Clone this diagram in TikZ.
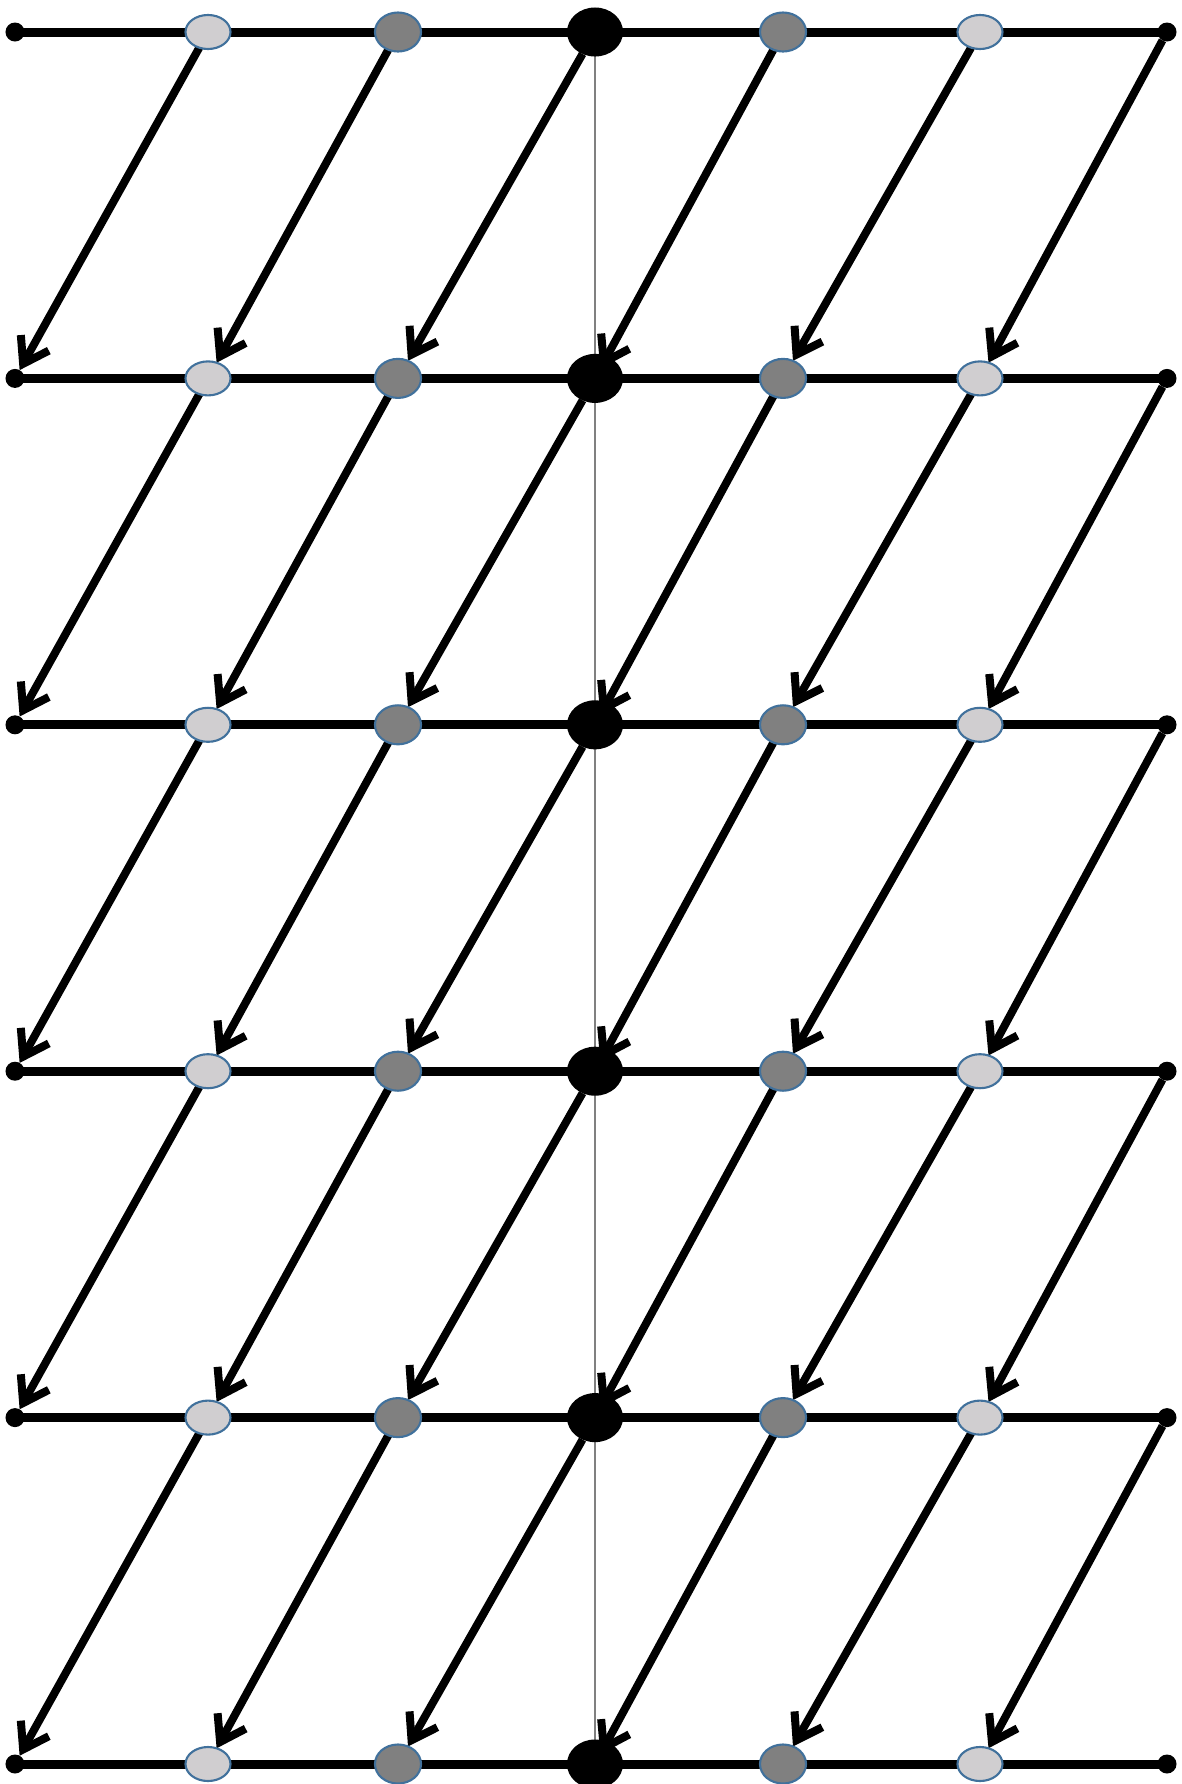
\documentclass[tikz,border=0pt]{standalone}
\usetikzlibrary{shapes.geometric,arrows.meta,backgrounds}
\definecolor{rimblue}{RGB}{65,113,156}
\definecolor{litegray}{RGB}{208,206,208}
\definecolor{midgray}{RGB}{128,128,128}
\begin{document}
\begin{tikzpicture}[x=0.01cm,y=-0.01cm,
  every node/.style={inner sep=0pt,outer sep=0pt},
  dot/.style={circle,fill=black,minimum size=0.19cm},
  lite/.style={ellipse,draw=rimblue,line width=0.6pt,fill=litegray,minimum width=0.45cm,minimum height=0.34cm},
  dark/.style={ellipse,draw=rimblue,line width=0.6pt,fill=midgray,minimum width=0.46cm,minimum height=0.39cm},
  hub/.style={ellipse,fill=black,minimum width=0.56cm,minimum height=0.49cm},
  rail/.style={line width=0.09cm},
  link/.style={line width=0.08cm,-{Straight Barb[length=0.24cm,width=0.32cm]}},
  hubin/.style={shorten >=-0.14cm},
  axis/.style={line width=0.4pt,gray}]
\useasboundingbox (0,0) rectangle (1181,1784);
\foreach \r in {0,...,5}{
  \pgfmathsetmacro\y{32+346.4*\r}
  \foreach \c/\x/\s in {0/15/dot,1/208/lite,2/398/dark,3/595/hub,4/783/dark,5/980/lite,6/1167/dot}
    \node[\s] (n\r-\c) at (\x,\y) {};
}
\begin{scope}[on background layer]
\draw[axis] (n0-3.center) -- (n5-3.center);
\foreach \r in {0,...,5}
  \foreach \c [count=\n] in {0,...,5}
    \draw[rail] (n\r-\c.center) -- (n\r-\n.center);
\foreach \r [evaluate=\r as \rr using int(\r+1)] in {0,...,4}{
  \foreach \c [evaluate=\c as \cc using int(\c-1)] in {1,2,3,5,6}
    \draw[link] (n\r-\c) -- (n\rr-\cc);
  \draw[link,hubin] (n\r-4) -- (n\rr-3);
}
\end{scope}
\end{tikzpicture}
\end{document}
